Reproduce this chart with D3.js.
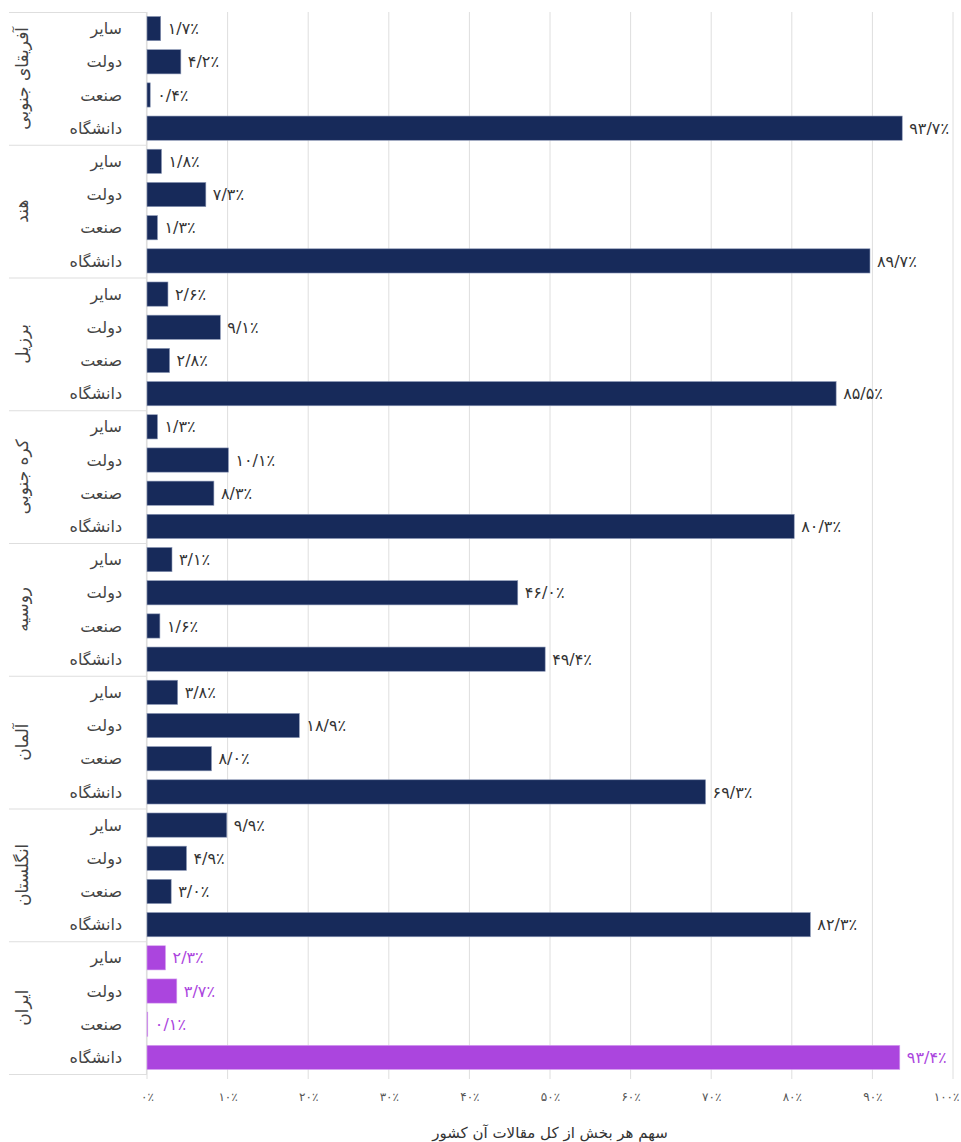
<!DOCTYPE html>
<html lang="fa">
<head>
<meta charset="utf-8">
<script src="https://cdn.jsdelivr.net/npm/d3@7"></script>
<style>
  html, body { margin: 0; padding: 0; background: #fff; }
  svg { display: block; font-family: "DejaVu Sans", "Noto Sans", sans-serif; }
</style>
</head>
<body>
<svg id="chart" width="961" height="1142"></svg>
<script>
// Countries (top to bottom) and sectors within each country
const countries = ["آفریقای جنوبی", "هند", "برزیل", "کره جنوبی", "روسیه", "آلمان", "انگلستان", "ایران"];
const sectors = ["سایر", "دولت", "صنعت", "دانشگاه"];

// Share of each sector in the country's total papers (%), in sector order
const southAfrica = [1.7, 4.2, 0.4, 93.7];
const india       = [1.8, 7.3, 1.3, 89.7];
const brazil      = [2.6, 9.1, 2.8, 85.5];
const southKorea  = [1.3, 10.1, 8.3, 80.3];
const russia      = [3.1, 46.0, 1.6, 49.4];
const germany     = [3.8, 18.9, 8.0, 69.3];
const england     = [9.9, 4.9, 3.0, 82.3];
const iran        = [2.3, 3.7, 0.1, 93.4];

const tickValues = [0, 10, 20, 30, 40, 50, 60, 70, 80, 90, 100];
const axisTitle = "سهم هر بخش از کل مقالات آن کشور";

const seriesByCountry = [southAfrica, india, brazil, southKorea, russia, germany, england, iran];
const rows = [];
countries.forEach((c, i) => {
  sectors.forEach((s, j) => rows.push({ country: c, sector: s, value: seriesByCountry[i][j], highlight: c === "ایران" }));
});

// Persian digits with "/" as decimal separator
const faDigits = "۰۱۲۳۴۵۶۷۸۹";
const toFa = s => String(s).replace(/[0-9]/g, d => faDigits[+d]).replace(".", "/");
const pct = v => toFa(v.toFixed(1)) + "٪";

const svg = d3.select("#chart");
const plotTop = 12, plotBottom = 1074, plotLeft = 147, plotRight = 953;

const x = d3.scaleLinear().domain([0, 100]).range([plotLeft, plotRight]);
const yGroup = d3.scaleBand().domain(countries).range([plotTop, plotBottom]).padding(0);
const yInner = d3.scaleBand().domain(sectors).range([0, yGroup.bandwidth()])
  .paddingInner(0.27).paddingOuter(0.135);

const navy = "#172a5a", purple = "#ab45de";
const gridColor = "#dedede";

// Vertical gridlines
svg.append("g").selectAll("line").data(tickValues).join("line")
  .attr("x1", d => x(d)).attr("x2", d => x(d))
  .attr("y1", plotTop).attr("y2", plotBottom + 5)
  .attr("stroke", gridColor).attr("stroke-width", 1);

// Group separators and category axis line
svg.append("g").selectAll("line").data(countries.map(c => yGroup(c)).concat([plotBottom])).join("line")
  .attr("x1", 9).attr("x2", plotLeft)
  .attr("y1", d => d + 0.5).attr("y2", d => d + 0.5)
  .attr("stroke", gridColor).attr("stroke-width", 1.2);
svg.append("line")
  .attr("x1", plotLeft - 0.5).attr("x2", plotLeft - 0.5)
  .attr("y1", plotTop).attr("y2", plotBottom)
  .attr("stroke", gridColor).attr("stroke-width", 1.2);

// Bars
svg.append("g").selectAll("rect").data(rows).join("rect")
  .attr("x", x(0))
  .attr("y", d => yGroup(d.country) + yInner(d.sector))
  .attr("width", d => x(d.value) - x(0))
  .attr("height", yInner.bandwidth())
  .attr("fill", d => d.highlight ? purple : navy)
  .attr("stroke", d => d.highlight ? "#d9a6f0" : "#8c98b6")
  .attr("stroke-width", 0.6);

// Value labels
svg.append("g").selectAll("text").data(rows).join("text")
  .attr("x", d => x(d.value) + 7)
  .attr("y", d => yGroup(d.country) + yInner(d.sector) + yInner.bandwidth() / 2)
  .attr("dy", "0.35em")
  .attr("font-size", 16)
  .attr("letter-spacing", 1.6)
  .attr("fill", d => d.highlight ? purple : "#333")
  .attr("direction", "ltr")
  .text(d => pct(d.value));

// Sector labels
svg.append("g").selectAll("text").data(rows).join("text")
  .attr("x", 122)
  .attr("y", d => yGroup(d.country) + yInner(d.sector) + yInner.bandwidth() / 2)
  .attr("dy", "0.35em")
  .attr("text-anchor", "end")
  .attr("font-size", 16)
  .attr("fill", "#444")
  .text(d => d.sector);

// Country labels (rotated)
svg.append("g").selectAll("text").data(countries).join("text")
  .attr("transform", d => `translate(22,${yGroup(d) + yGroup.bandwidth() / 2}) rotate(-90)`)
  .attr("text-anchor", "middle")
  .attr("dy", "0.35em")
  .attr("font-size", 17)
  .attr("fill", "#444")
  .text(d => d);

// X axis tick labels
const xAxis = d3.axisBottom(x).tickValues(tickValues).tickSize(0).tickPadding(0)
  .tickFormat(d => toFa(d) + "٪");
const axisG = svg.append("g").attr("transform", `translate(0,${1092})`).call(xAxis);
axisG.select(".domain").remove();
axisG.selectAll("text")
  .attr("font-family", "DejaVu Sans, sans-serif")
  .attr("font-size", 12)
  .attr("fill", "#555")
  .attr("direction", "ltr");
// keep the last tick label inside the canvas
axisG.selectAll(".tick").filter(d => d === 100).select("text")
  .attr("text-anchor", "end").attr("x", 959 - x(100));

// Axis title
svg.append("text")
  .attr("x", (plotLeft + plotRight) / 2).attr("y", 1138)
  .attr("text-anchor", "middle")
  .attr("font-size", 15)
  .attr("fill", "#333")
  .text(axisTitle);
</script>
</body>
</html>
